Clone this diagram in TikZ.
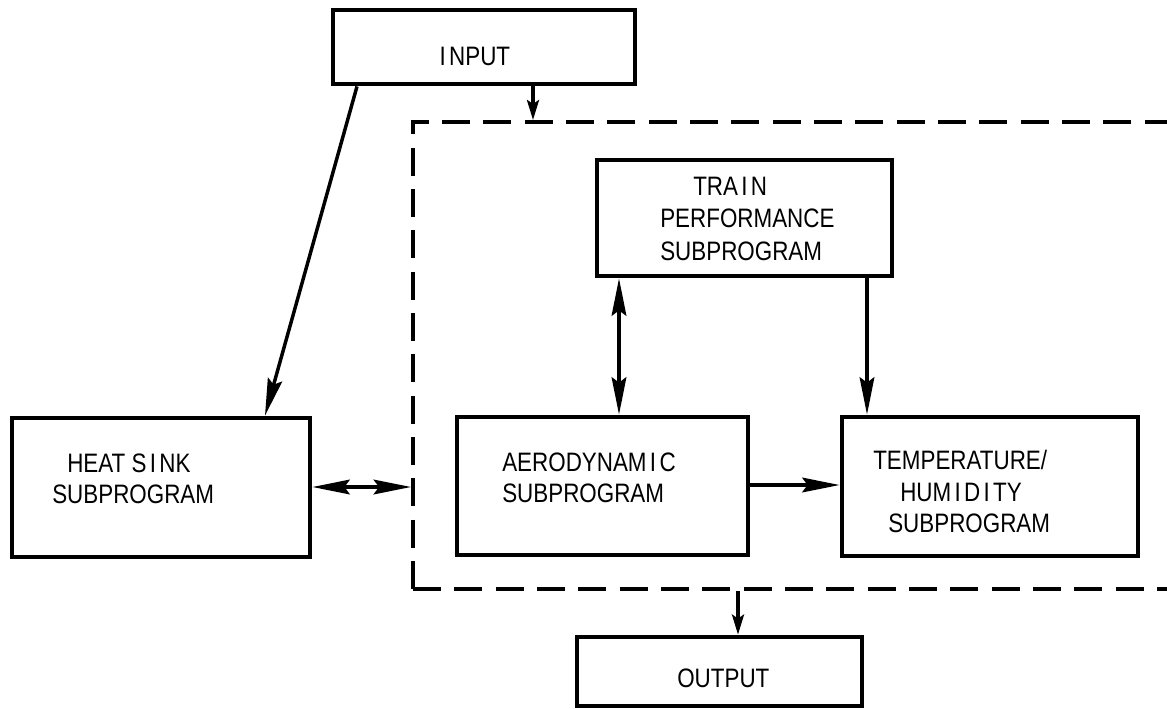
\documentclass[tikz,border=0pt]{standalone}
\usepackage{fontspec}
\setmainfont{Liberation Sans}[FakeStretch=0.84]
\usetikzlibrary{arrows.meta,fit}
% a spaced capital I, as the typewriter lettering sets it
\newcommand\sI{\kern2.5pt I\kern2.5pt}
\begin{document}
\begin{tikzpicture}[x=0.75pt,y=-0.75pt,
  box/.style={draw, line width=3.6pt, inner sep=0pt, line join=miter},
  lbl/.style={inner sep=0pt, anchor=base west, font=\fontsize{20}{24}\selectfont},
  big/.style={-{Stealth[length=28pt,width=11pt,inset=4pt]}, line width=2.6pt},
  bigboth/.style={{Stealth[length=28pt,width=11pt,inset=4pt]}-{Stealth[length=28pt,width=11pt,inset=4pt]}, line width=2.6pt},
  small/.style={-{Stealth[length=15pt,width=9pt,inset=3pt]}, line width=2.6pt},
  frame/.style={draw, line width=3pt, dash pattern=on 21pt off 10pt, inner sep=0pt}]
\useasboundingbox (0,0) rectangle (1167,708);

% boxes
\node[box, fit={(333,10) (635,84)}] (input) {};
\node[box, fit={(597,160) (892,276)}] (train) {};
\node[box, fit={(12,418) (310,557)}] (heat) {};
\node[box, fit={(457,417) (748,555)}] (aero) {};
\node[box, fit={(842,417) (1138,556)}] (temp) {};
\node[box, fit={(577,637) (862,706)}] (output) {};

% dashed enclosure of the coupled subprograms (runs off the right edge)
\node[frame, fit={(413,122) (1200,589)}] (core) {};

% labels
\node[lbl] (tInput) at (436,65) {\sI NPUT};
\node[lbl] (tTrain1) at (693,195) {TRA\sI N};
\node[lbl] (tTrain2) at (660,227) {PERFORMANCE};
\node[lbl] (tTrain3) at (660,260) {SUBPROGRAM};
\node[lbl] (tHeat1) at (67,472) {HEAT S\sI NK};
\node[lbl] (tHeat2) at (52,503) {SUBPROGRAM};
\node[lbl] (tAero1) at (502,471) {AERODYNAM\sI C};
\node[lbl] (tAero2) at (502,502) {SUBPROGRAM};
\node[lbl] (tTemp1) at (873,469) {TEMPERATURE/};
\node[lbl] (tTemp2) at (900,501) {HUM\sI D\sI TY};
\node[lbl] (tTemp3) at (888,532) {SUBPROGRAM};
\node[lbl] (tOutput) at (677,687) {OUTPUT};

% connector positions
\coordinate (xIn) at (533,0);
\coordinate (xOut) at (738,0);
\coordinate (xFromIn) at (357,0);
\coordinate (xToHeat) at (265,0);
\coordinate (xTA) at (619,0);
\coordinate (xTT) at (867,0);
\coordinate (yHeat) at (0,487);
\coordinate (yAT) at (0,485);

% connectors
\draw[small] (input.south -| xIn) -- (core.north -| xIn);
\draw[big] (input.south -| xFromIn) -- (heat.north -| xToHeat);
\draw[bigboth] (heat.east |- yHeat) -- (core.west |- yHeat);
\draw[bigboth] (train.south -| xTA) -- (aero.north -| xTA);
\draw[big] (train.south -| xTT) -- (temp.north -| xTT);
\draw[big] (aero.east |- yAT) -- (temp.west |- yAT);
\draw[small] (core.south -| xOut) -- (output.north -| xOut);
\end{tikzpicture}
\end{document}
